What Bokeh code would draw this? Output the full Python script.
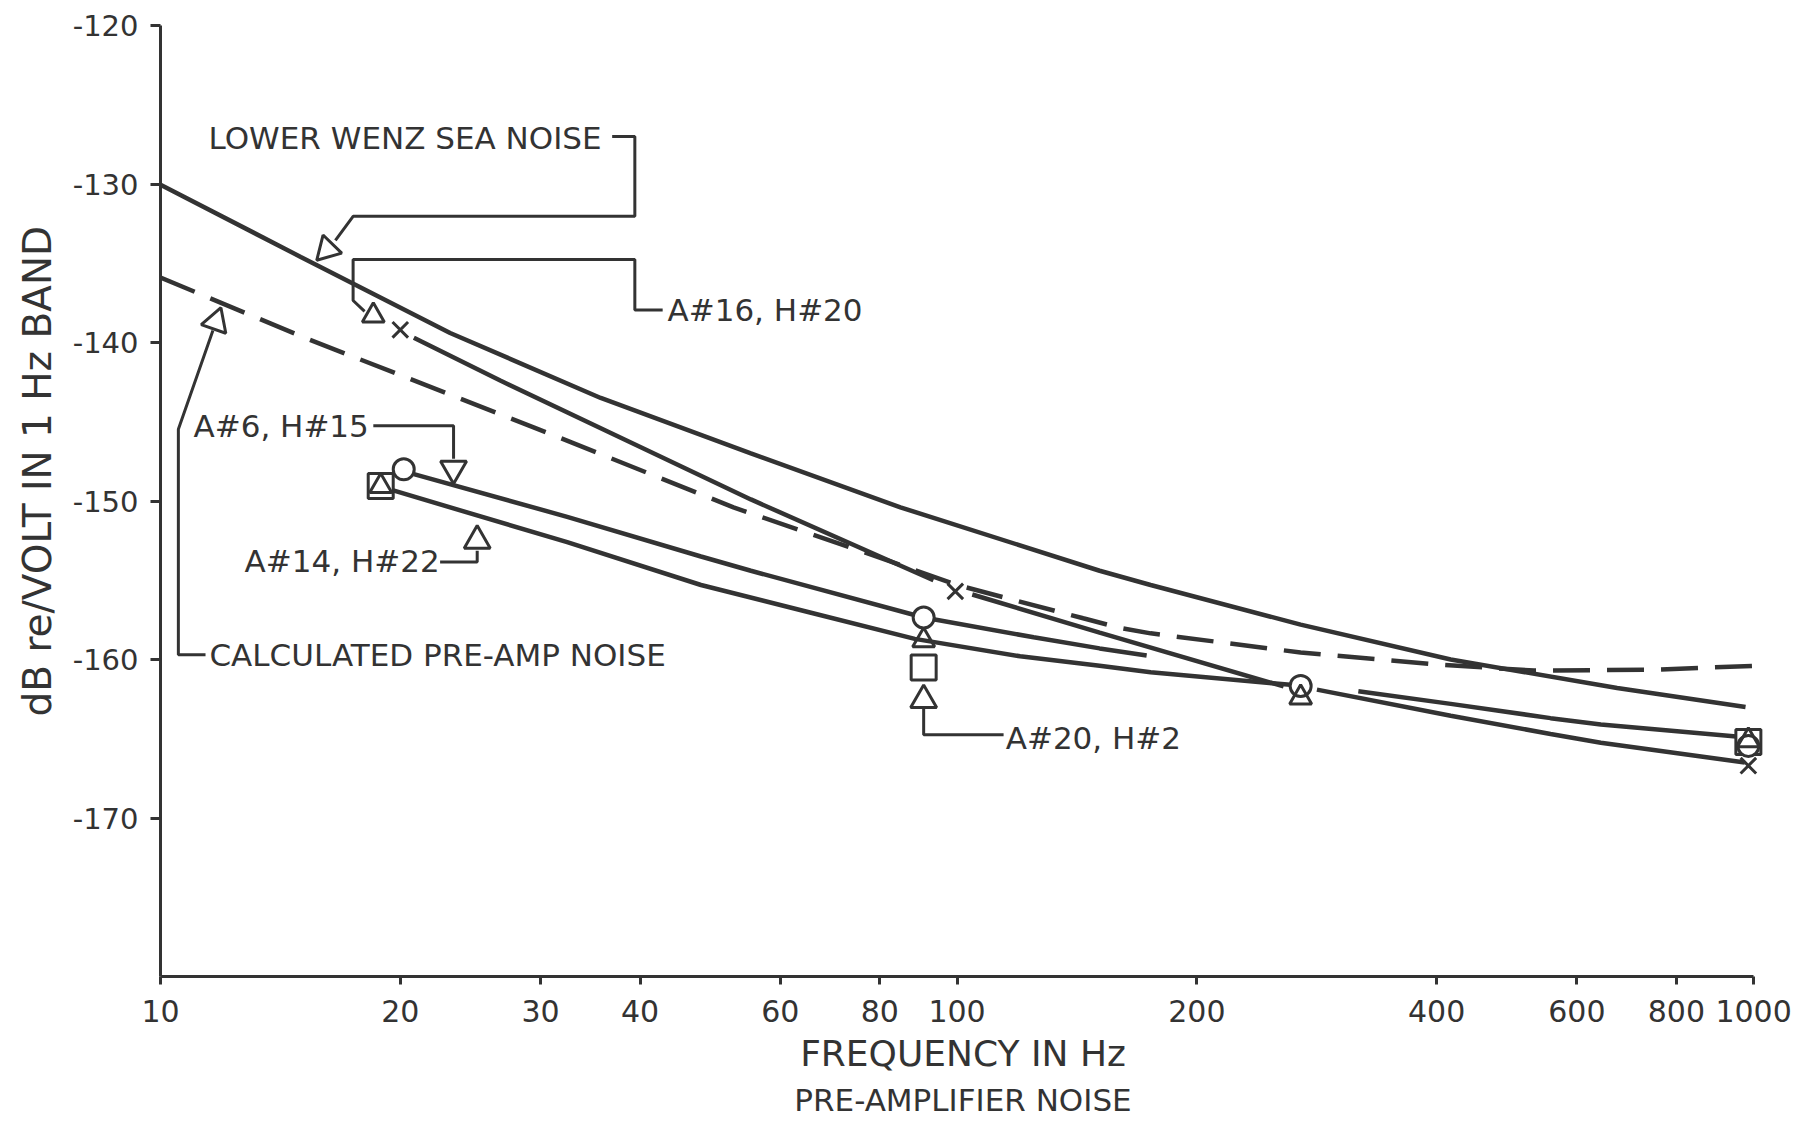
import math
from bokeh.plotting import figure
from bokeh.models import Range1d, FixedTicker, PrintfTickFormatter, Label, Title
from bokeh.embed import file_html
from bokeh.resources import INLINE

nan = float("nan")

# ---------------- data ----------------
x_ticks = [10, 20, 30, 40, 60, 80, 100, 200, 400, 600, 800, 1000]
y_ticks = [-170, -160, -150, -140, -130, -120]

# Lower Wenz sea noise (solid, top)
wenz_f = [10, 15, 23.1, 35.7, 55.1, 84.9, 151, 175, 270, 416.6, 674, 977]
wenz_db = [-130.05, -134.6, -139.4, -143.5, -147.0, -150.4, -154.4, -155.3,
           -157.8, -160.0, -161.8, -163.0]

# Calculated pre-amp noise (dashed)
calc_f = [10, 15, 29.4, 52.4, 77.2, 100, 144, 160, 175, 270, 396, 530, 742, 1000]
calc_db = [-135.9, -139.6, -145.35, -150.4, -153.3, -155.3, -157.4, -158.0, -158.35,
           -159.56, -160.3, -160.7, -160.65, -160.4]

# A#16, H#20 curve
a16_f = [20.8, 26.7, 39.3, 55.1, 93.4, nan, 104.5, 151, 257, nan, 283, 416.6, 556, 643, 975]
a16_db = [-139.7, -142.4, -146.4, -149.9, -155.0, nan, -155.9, -158.3, -161.7, nan,
          -161.9, -163.55, -164.7, -165.25, -166.5]

# A#6, H#15 curve
a6_f = [20.8, 32.4, 47.7, 55.1, 90.8, 124.8, 151, 173]
a6_db = [-148.3, -151.0, -153.5, -154.4, -157.35, -158.6, -159.3, -159.75]

# A#14, H#22 curve
a14_f = [19.5, 32.4, 47.7, 65, 88.5, 120, 151, 175, 262, nan, 319, 416.6, 556, 643, 975]
a14_db = [-149.3, -152.6, -155.3, -157.0, -158.7, -159.8, -160.4, -160.8, -161.6, nan,
          -162.0, -162.8, -163.7, -164.1, -164.9]

# measured points
circle_f = [20.2, 90.8, 270, 985]
circle_db = [-148.0, -157.35, -161.67, -165.45]
square_f = [18.9, 90.8, 985]
square_db = [-149.06, -160.5, -165.2]
tri_f = [18.5, 18.9, 90.8, 270, 985]
tri_db = [-138.3, -149.06, -158.8, -162.4, -165.1]
cross_f = [20.0, 99.5, 985]
cross_db = [-139.2, -155.7, -166.7]

# ---------------- figure ----------------
INK = "#333333"
FONT = "DejaVu Sans"

p = figure(width=1800, height=1123, x_axis_type="log",
           x_range=Range1d(10, 1035), y_range=Range1d(-180, -120),
           output_backend="svg", toolbar_location=None,
           min_border_left=160, min_border_right=35, min_border_top=25, min_border_bottom=147)
p.background_fill_color = "white"
p.border_fill_color = "white"
p.outline_line_color = None
p.grid.visible = False

for ax in (p.xaxis[0], p.yaxis[0]):
    ax.axis_line_color = INK
    ax.axis_line_width = 3
    ax.major_tick_line_color = INK
    ax.major_tick_line_width = 3
    ax.major_tick_in = 0
    ax.minor_tick_line_color = None
    ax.major_label_text_font = FONT
    ax.major_label_text_color = INK
    ax.axis_label_text_font = FONT
    ax.axis_label_text_font_style = "normal"
    ax.axis_label_text_color = INK

p.xaxis.ticker = FixedTicker(ticks=x_ticks, minor_ticks=[])
p.xaxis.formatter = PrintfTickFormatter(format="%d")
p.xaxis.bounds = (10, 1000)
p.xaxis.major_tick_out = 8
p.xaxis.major_label_standoff = 15
p.xaxis.major_label_text_font_size = "30px"
p.xaxis.axis_label = "FREQUENCY IN Hz"
p.xaxis.axis_label_text_font_size = "36px"
p.xaxis.axis_label_standoff = 8

p.yaxis.ticker = FixedTicker(ticks=y_ticks, minor_ticks=[])
p.yaxis.formatter = PrintfTickFormatter(format="%d")
p.yaxis.major_tick_out = 10
p.yaxis.major_label_standoff = 12
p.yaxis.major_label_text_font_size = "29px"

# y title: a left-side title, started a fixed distance above the frame bottom
p.add_layout(Title(text="dB re/VOLT IN 1 Hz BAND", align="left", offset=260,
                   vertical_align="bottom", text_font=FONT, text_font_size="39px",
                   text_font_style="normal", text_color=INK, standoff=20), "left")

p.add_layout(Title(text="PRE-AMPLIFIER NOISE", align="center", text_font=FONT,
                   text_font_size="31px", text_font_style="normal", text_color=INK,
                   standoff=7), "below")

# curves
p.line(wenz_f, wenz_db, line_color=INK, line_width=4.5)
p.line(calc_f, calc_db, line_color=INK, line_width=4.5, line_dash="37 17")
p.line(a16_f, a16_db, line_color=INK, line_width=4.5)
p.line(a6_f, a6_db, line_color=INK, line_width=4.5)
p.line(a14_f, a14_db, line_color=INK, line_width=4.5)

# ---------------- call-outs ----------------
LW = 3
def leader(xs, ys):
    p.line(xs, ys, line_color=INK, line_width=LW)

def text(x, y, s):
    p.add_layout(Label(x=x, y=y, text=s, text_align="left", text_baseline="middle",
                       text_font=FONT, text_font_size="31px", text_color=INK))

def arrow(x, y, marker, angle_deg):
    p.scatter([x], [y], marker=marker, size=26, angle=math.radians(angle_deg),
              fill_color="white", line_color=INK, line_width=LW)

# Lower Wenz sea noise
text(11.49, -127.07, "LOWER WENZ SEA NOISE")
leader([36.9, 39.4, 39.4, 17.45, 16.58], [-127.0, -127.0, -132.04, -132.04, -133.56])
arrow(16.19, -134.13, "triangle", 136)

# A#16, H#20
text(43.3, -137.95, "A#16, H#20")
leader([42.7, 39.4, 39.4, 17.45, 17.45, 18.04], [-137.95, -137.95, -134.76, -134.76, -137.35, -138.04])

# A#6, H#15
text(11.0, -145.25, "A#6, H#15")
leader([18.5, 23.33, 23.33], [-145.25, -145.25, -147.33])
arrow(23.33, -147.97, "inverted_triangle", 0)

# A#14, H#22
text(12.75, -153.8, "A#14, H#22")
leader([22.44, 24.98, 24.98], [-153.85, -153.85, -153.14])
arrow(24.98, -152.5, "triangle", 0)

# A#20, H#2
text(115.1, -164.95, "A#20, H#2")
leader([90.8, 90.8, 114.4], [-163.1, -164.75, -164.75])
arrow(90.8, -162.55, "triangle", 0)

# Calculated pre-amp noise
text(11.52, -159.7, "CALCULATED PRE-AMP NOISE")
leader([11.39, 10.53, 10.53, 11.636], [-159.7, -159.7, -145.47, -139.24])
arrow(11.74, -138.70, "triangle", -19.2)

# ---------------- measured markers ----------------
p.scatter(square_f, square_db, marker="square", size=25, fill_color="white",
          line_color=INK, line_width=3)
p.scatter(circle_f, circle_db, marker="circle", size=21, fill_color="white",
          line_color=INK, line_width=3)
p.scatter(tri_f, tri_db, marker="triangle", size=22, fill_color=None,
          line_color=INK, line_width=3)
p.scatter(cross_f, cross_db, marker="x", size=22, line_color=INK, line_width=3)

open("out.html", "w").write(file_html(p, INLINE))
